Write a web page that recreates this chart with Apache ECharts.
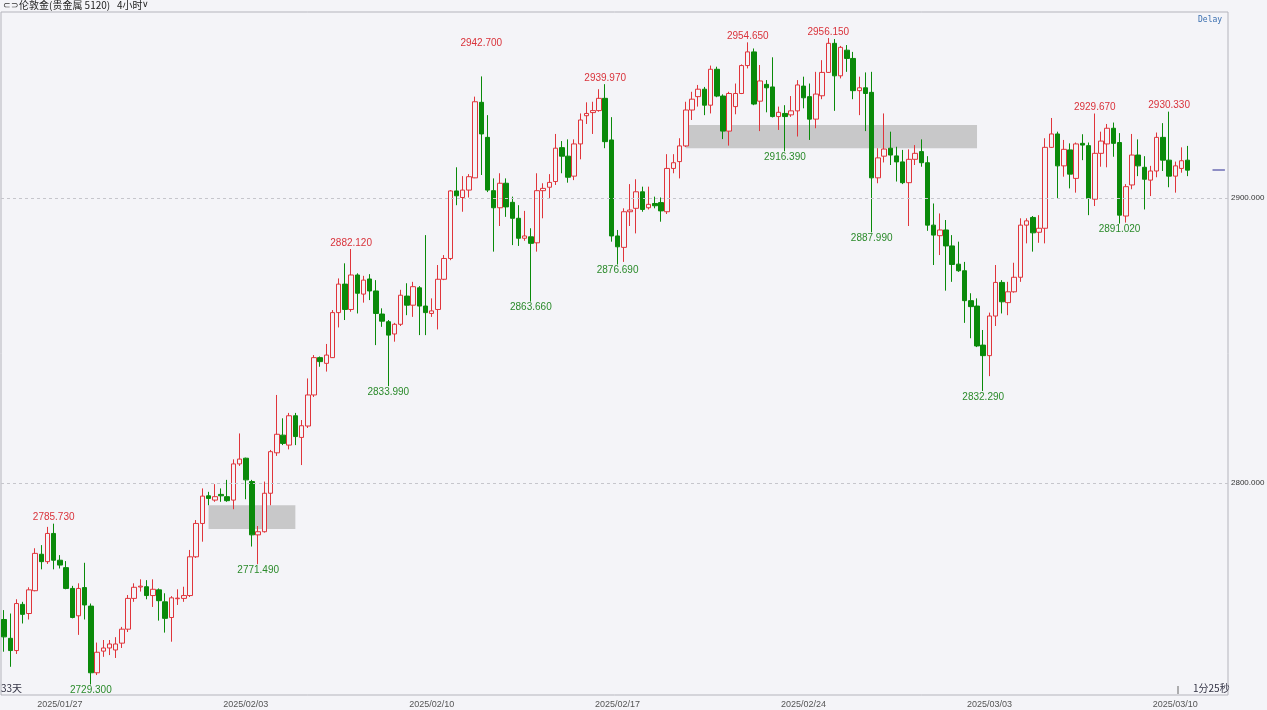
<!DOCTYPE html>
<html>
<head>
<meta charset="utf-8">
<script src="https://cdn.jsdelivr.net/npm/echarts@6/dist/echarts.min.js"></script>
<style>
  html, body { margin: 0; padding: 0; background: #f4f4f8; }
  #chart { width: 1267px; height: 710px; }
</style>
</head>
<body>
<div id="chart"></div>
<script>
// 伦敦金 4-hour bars, each entry [open, close, low, high]
const wkPrev = [
  [2752.1, 2746.0, 2740.8, 2755.4], [2745.5, 2741.2, 2735.5, 2754.2], [2741.2, 2757.7, 2740.0, 2759.2],
  [2757.4, 2753.9, 2750.7, 2758.3], [2754.2, 2762.5, 2752.1, 2763.4], [2762.2, 2775.3, 2762.0, 2777.1],
  [2775.0, 2772.4, 2769.7, 2778.2], [2772.4, 2782.3, 2771.6, 2784.6], [2782.3, 2772.9, 2769.7, 2785.73]
];
const wk0127 = [
  [2772.9, 2771.2, 2770.0, 2774.7], [2770.3, 2763.0, 2762.7, 2772.6], [2763.0, 2752.8, 2752.5, 2763.9],
  [2753.4, 2763.0, 2746.7, 2764.8], [2763.3, 2757.2, 2752.1, 2772.0], [2756.8, 2733.4, 2729.3, 2757.7],
  [2733.4, 2740.6, 2732.6, 2744.0], [2741.0, 2742.1, 2739.0, 2744.9], [2742.1, 2743.5, 2739.6, 2744.9],
  [2741.4, 2743.5, 2738.6, 2745.9], [2743.8, 2748.7, 2742.1, 2749.5], [2748.7, 2759.5, 2747.7, 2760.7],
  [2759.5, 2763.4, 2758.3, 2764.8], [2763.5, 2763.8, 2761.9, 2766.2], [2763.6, 2760.5, 2759.2, 2765.9],
  [2760.5, 2762.7, 2756.5, 2766.2], [2762.5, 2758.7, 2751.7, 2763.0], [2758.3, 2752.5, 2747.5, 2761.3],
  [2752.8, 2759.7, 2744.3, 2760.3], [2759.4, 2759.6, 2757.2, 2762.7], [2759.5, 2760.5, 2758.3, 2763.6],
  [2760.5, 2774.1, 2760.0, 2776.5], [2774.1, 2785.8, 2773.7, 2787.0], [2785.8, 2795.4, 2779.4, 2798.1],
  [2795.5, 2794.6, 2792.2, 2796.9], [2794.0, 2795.2, 2793.4, 2799.6], [2796.0, 2795.5, 2793.4, 2798.1],
  [2795.2, 2793.8, 2793.4, 2801.1], [2794.0, 2806.7, 2790.8, 2808.3], [2806.7, 2808.4, 2806.0, 2817.4]
];
const wk0203 = [
  [2808.7, 2801.1, 2794.3, 2808.9], [2800.5, 2781.8, 2777.7, 2801.1], [2781.8, 2782.9, 2771.49, 2784.9],
  [2782.9, 2796.4, 2782.6, 2800.5], [2796.4, 2811.0, 2792.2, 2811.6], [2810.6, 2817.1, 2809.5, 2830.9],
  [2816.8, 2813.9, 2813.3, 2822.7], [2813.3, 2823.6, 2811.8, 2824.6], [2823.6, 2816.3, 2813.3, 2824.6],
  [2816.0, 2820.1, 2806.3, 2822.1], [2820.0, 2830.9, 2819.3, 2836.7], [2830.9, 2844.0, 2830.2, 2844.9],
  [2844.0, 2842.6, 2840.8, 2844.4], [2842.0, 2844.9, 2839.1, 2848.8], [2844.0, 2859.8, 2843.9, 2860.7],
  [2859.8, 2869.8, 2854.6, 2871.8], [2869.8, 2860.9, 2857.2, 2877.1], [2860.9, 2873.0, 2860.1, 2882.12],
  [2873.0, 2866.6, 2859.5, 2873.6], [2866.3, 2871.2, 2863.3, 2872.7], [2871.6, 2867.4, 2864.2, 2873.3],
  [2867.4, 2859.5, 2848.4, 2871.2], [2859.3, 2856.8, 2854.8, 2861.3], [2856.6, 2851.9, 2833.99, 2857.2],
  [2852.3, 2855.7, 2849.6, 2856.2], [2855.7, 2865.9, 2855.1, 2867.8], [2865.6, 2862.4, 2858.9, 2870.1],
  [2862.4, 2868.9, 2858.3, 2870.6], [2868.5, 2862.1, 2851.9, 2869.1], [2862.1, 2859.8, 2851.9, 2887.0]
];
const wk0210 = [
  [2859.5, 2860.4, 2858.3, 2864.8], [2860.9, 2871.5, 2853.9, 2876.5], [2871.5, 2878.8, 2871.2, 2880.0],
  [2878.8, 2902.5, 2878.2, 2902.8], [2902.5, 2900.8, 2897.5, 2910.8], [2900.2, 2902.8, 2895.2, 2907.7],
  [2902.8, 2907.5, 2900.2, 2908.4], [2907.1, 2933.8, 2907.0, 2935.6], [2933.6, 2922.5, 2908.1, 2942.70],
  [2921.3, 2902.8, 2902.1, 2929.1], [2902.6, 2896.6, 2881.2, 2906.9], [2896.6, 2905.2, 2890.2, 2908.7],
  [2905.2, 2896.9, 2893.4, 2906.9], [2898.5, 2892.9, 2883.5, 2900.5], [2892.9, 2885.9, 2883.2, 2897.5],
  [2885.9, 2886.7, 2885.0, 2895.5], [2886.4, 2884.1, 2863.66, 2889.4], [2884.3, 2902.6, 2881.2, 2908.7],
  [2902.6, 2903.4, 2892.9, 2905.2], [2903.8, 2905.5, 2899.9, 2908.4], [2905.8, 2917.5, 2904.6, 2922.5],
  [2917.7, 2914.7, 2908.7, 2920.0], [2914.7, 2907.3, 2905.4, 2920.6], [2907.7, 2919.0, 2906.3, 2920.6],
  [2919.0, 2927.4, 2913.6, 2929.7], [2928.9, 2929.7, 2926.0, 2933.6], [2930.0, 2930.7, 2922.5, 2933.8],
  [2930.7, 2935.0, 2930.3, 2938.2], [2935.0, 2919.8, 2917.5, 2939.97], [2920.4, 2886.7, 2884.7, 2928.4]
];
const wk0217 = [
  [2886.7, 2882.9, 2876.69, 2888.8], [2882.7, 2895.2, 2877.6, 2896.4], [2895.2, 2895.8, 2890.2, 2904.9],
  [2896.4, 2902.2, 2887.6, 2906.6], [2902.2, 2896.0, 2895.2, 2904.0], [2896.6, 2897.8, 2896.0, 2904.0],
  [2898.1, 2897.3, 2896.4, 2900.5], [2898.4, 2895.5, 2891.7, 2900.2], [2895.2, 2910.4, 2894.4, 2915.4],
  [2910.4, 2912.4, 2908.7, 2915.4], [2912.8, 2918.3, 2906.9, 2921.0], [2918.3, 2930.9, 2917.9, 2933.8],
  [2930.9, 2934.7, 2927.4, 2937.3], [2935.6, 2938.2, 2932.1, 2939.7], [2938.2, 2932.6, 2929.1, 2939.0],
  [2932.6, 2945.2, 2929.7, 2946.5], [2945.2, 2935.8, 2935.4, 2946.1], [2935.8, 2923.5, 2920.7, 2936.4],
  [2923.5, 2936.7, 2918.4, 2937.3], [2932.1, 2936.7, 2929.4, 2940.2], [2936.7, 2946.5, 2936.5, 2946.9],
  [2946.5, 2951.3, 2945.5, 2954.65], [2951.3, 2933.0, 2932.6, 2952.5], [2934.0, 2941.1, 2923.5, 2946.7],
  [2939.9, 2938.7, 2930.1, 2941.4], [2939.0, 2928.6, 2928.3, 2949.4], [2928.6, 2930.1, 2923.9, 2932.1],
  [2929.7, 2928.6, 2916.39, 2932.6], [2929.2, 2930.6, 2928.5, 2935.8], [2930.6, 2939.7, 2921.6, 2941.4]
];
const wk0224 = [
  [2939.3, 2935.2, 2931.5, 2942.6], [2935.6, 2927.7, 2920.4, 2940.2], [2927.7, 2936.5, 2924.5, 2944.3],
  [2935.9, 2944.1, 2934.7, 2948.4], [2944.1, 2954.3, 2943.9, 2956.15], [2954.3, 2942.9, 2930.6, 2955.8],
  [2942.9, 2952.9, 2942.0, 2953.4], [2951.9, 2949.0, 2944.3, 2953.7], [2949.0, 2937.7, 2934.7, 2951.3],
  [2937.7, 2938.7, 2929.1, 2942.6], [2938.7, 2936.7, 2923.5, 2944.1], [2937.1, 2907.1, 2887.99, 2944.3],
  [2907.1, 2914.1, 2905.2, 2917.5], [2914.7, 2917.2, 2912.5, 2929.7], [2917.5, 2915.1, 2911.6, 2923.3],
  [2914.8, 2912.7, 2905.8, 2918.0], [2912.7, 2905.4, 2904.9, 2916.9], [2905.4, 2913.6, 2890.2, 2917.1],
  [2913.6, 2915.7, 2911.6, 2918.6], [2916.3, 2912.4, 2911.0, 2920.6], [2912.4, 2890.5, 2888.5, 2914.7],
  [2890.5, 2887.0, 2876.5, 2898.1], [2886.8, 2888.8, 2880.0, 2894.6], [2888.8, 2883.2, 2867.5, 2892.3],
  [2883.2, 2876.7, 2870.6, 2887.0], [2876.8, 2874.5, 2874.1, 2884.7], [2874.5, 2864.0, 2856.2, 2877.6],
  [2864.0, 2861.9, 2850.8, 2866.6], [2862.1, 2848.1, 2847.7, 2864.8], [2848.4, 2844.7, 2832.29, 2853.7]
];
const wk0303 = [
  [2844.7, 2858.6, 2837.5, 2859.8], [2858.6, 2870.4, 2855.1, 2876.5], [2870.4, 2863.6, 2859.5, 2871.2],
  [2863.3, 2867.1, 2858.9, 2870.6], [2867.1, 2872.2, 2866.8, 2877.3], [2872.2, 2890.5, 2870.6, 2892.9],
  [2890.5, 2892.0, 2884.1, 2892.9], [2893.2, 2887.8, 2881.2, 2893.7], [2888.0, 2889.4, 2884.3, 2894.0],
  [2889.4, 2917.8, 2884.1, 2921.0], [2917.8, 2922.5, 2917.6, 2928.1], [2922.5, 2911.3, 2899.9, 2923.3],
  [2911.3, 2917.1, 2907.5, 2920.4], [2916.9, 2908.4, 2903.4, 2919.2], [2906.9, 2919.0, 2901.9, 2919.5],
  [2919.2, 2918.6, 2913.3, 2922.4], [2918.4, 2899.9, 2894.0, 2919.5], [2899.6, 2915.7, 2897.2, 2929.67],
  [2915.7, 2920.0, 2911.0, 2923.3], [2919.0, 2924.5, 2910.8, 2926.0], [2924.5, 2919.2, 2914.5, 2926.5],
  [2919.5, 2894.0, 2891.02, 2922.8], [2893.7, 2904.0, 2891.4, 2904.9], [2904.6, 2915.1, 2903.1, 2922.5],
  [2915.1, 2911.3, 2907.7, 2920.6], [2910.8, 2906.6, 2896.0, 2914.7], [2906.3, 2909.5, 2900.7, 2911.3],
  [2909.5, 2921.3, 2907.3, 2923.0], [2921.3, 2913.3, 2909.5, 2926.3], [2913.3, 2907.7, 2903.8, 2930.33]
];
const wk0310 = [
  [2907.7, 2911.3, 2901.9, 2912.8], [2910.4, 2913.1, 2908.9, 2917.8], [2913.3, 2909.8, 2907.7, 2918.3]
];

// week-start labels on the time axis and the bar each one sits under
const dateLabels = ['2025/01/27', '2025/02/03', '2025/02/10', '2025/02/17', '2025/02/24', '2025/03/03', '2025/03/10'];
const dateLabelBars = [9, 39, 69, 99, 129, 159, 189];

// price grid levels shown on the right
const priceTicks = [2800, 2900];

// swing highs / lows annotated on the chart: [bar, price]
const highMarks = [[8, 2785.73], [56, 2882.12], [77, 2942.70], [97, 2939.97], [120, 2954.65], [133, 2956.15], [176, 2929.67], [188, 2930.33]];
const lowMarks = [[14, 2729.30], [41, 2771.49], [62, 2833.99], [85, 2863.66], [99, 2876.69], [126, 2916.39], [140, 2887.99], [158, 2832.29], [180, 2891.02]];
// the 2942.700 tag is lifted clear of the neighbouring bars
const liftedHigh = 77;

// shaded price zones: [fromBar, toBar, lowPrice, highPrice]
const zones = [[33, 47, 2783.9, 2792.2], [110, 157, 2917.5, 2925.6]];

const bars = [].concat(wkPrev, wk0127, wk0203, wk0210, wk0217, wk0224, wk0303, wk0310);
const emptySlots = 6;
const categories = [];
for (let i = 0; i < bars.length + emptySlots; i++) categories.push(String(i));
const lastClose = bars[bars.length - 1][1];

const UP = '#e0353b';
const DOWN = '#0a8a0a';
const BG = '#f4f4f8';
const numFont = 'Liberation Sans, Arial, sans-serif';

const chart = echarts.init(document.getElementById('chart'), null, { renderer: 'canvas' });

const markPoints = []
  .concat(highMarks.map(([i, v]) => ({
    coord: [i, v], value: v,
    label: { position: 'top', distance: 1, color: '#d9323a', offset: i === liftedHigh ? [0, -27] : [0, 0] }
  })))
  .concat(lowMarks.map(([i, v]) => ({
    coord: [i, v], value: v,
    label: { position: 'bottom', distance: 1, color: '#2a8a2a' }
  })));

chart.setOption({
  backgroundColor: BG,
  animation: false,
  grid: { left: 1, right: 39, top: 12, bottom: 15, show: true, borderColor: '#b4b4bc', borderWidth: 1, backgroundColor: 'transparent' },
  xAxis: {
    type: 'category',
    data: categories,
    boundaryGap: true,
    axisLine: { show: false },
    axisTick: { show: false },
    splitLine: { show: false },
    axisLabel: {
      interval: (idx) => dateLabelBars.includes(idx),
      formatter: (val) => {
        const k = dateLabelBars.indexOf(Number(val));
        return k >= 0 ? dateLabels[k] : '';
      },
      color: '#555',
      fontSize: 9,
      fontFamily: numFont,
      margin: 5
    }
  },
  yAxis: {
    type: 'value',
    position: 'right',
    min: 2725.6,
    max: 2965.3,
    axisLine: { show: false },
    axisTick: { show: false },
    axisLabel: { show: false },
    splitLine: { show: false }
  },
  graphic: [
    { type: 'text', left: 3, top: 1, style: { text: '⊂⊃', fill: '#333', font: '9px ' + numFont } },
    { type: 'text', left: 19, top: 0, style: { text: '伦敦金(贵金属 5120)', fill: '#222', font: '10px "Noto Sans CJK SC", sans-serif' } },
    { type: 'text', left: 117, top: 0, style: { text: '4小时', fill: '#222', font: '10px "Noto Sans CJK SC", sans-serif' } },
    { type: 'text', left: 142, top: 0, style: { text: '∨', fill: '#222', font: '9px ' + numFont } },
    { type: 'text', left: 1198, top: 16, style: { text: 'Delay', fill: '#3a6fb0', font: '8px "DejaVu Sans Mono", monospace' } },
    { type: 'text', left: 1, top: 683, style: { text: '33天', fill: '#334', font: '10px "Noto Sans CJK SC", sans-serif' } },
    { type: 'text', left: 1193, top: 683, style: { text: '1分25秒', fill: '#334', font: '10px "Noto Sans CJK SC", sans-serif' } },
    { type: 'line', shape: { x1: 1178, y1: 686, x2: 1178, y2: 694 }, style: { stroke: '#666', lineWidth: 1 } }
  ],
  series: [{
    type: 'candlestick',
    data: bars,
    barWidth: 5,
    itemStyle: {
      color: BG,
      color0: DOWN,
      borderColor: UP,
      borderColor0: DOWN,
      borderWidth: 1
    },
    markPoint: {
      symbol: 'circle',
      symbolSize: 0,
      label: {
        show: true,
        fontSize: 10,
        fontFamily: numFont,
        formatter: (p) => p.value.toFixed(3)
      },
      data: markPoints
    },
    markLine: {
      silent: true,
      symbol: 'none',
      animation: false,
      data: priceTicks.map((v) => ({
        yAxis: v,
        lineStyle: { color: '#c6c6cc', type: [3, 3], width: 1 },
        label: { show: true, position: 'end', distance: 3, formatter: () => v.toFixed(3), color: '#333', fontSize: 8, fontFamily: numFont }
      })).concat([[
        { coord: [bars.length + 3, lastClose], lineStyle: { color: '#6c6cb4', type: 'solid', width: 1.5 }, label: { show: false } },
        { coord: [bars.length + emptySlots - 1, lastClose] }
      ]])
    },
    markArea: {
      silent: true,
      itemStyle: { color: 'rgba(170,170,170,0.6)' },
      data: zones.map(([a, b, lo, hi]) => [{ coord: [a, hi] }, { coord: [b, lo] }])
    }
  }]
});
</script>
</body>
</html>
